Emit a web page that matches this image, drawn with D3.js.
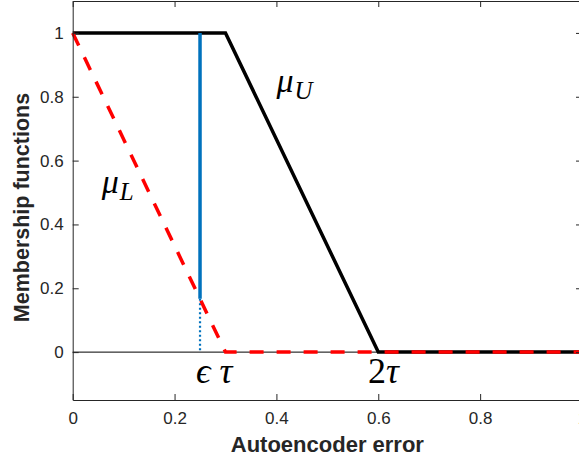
<!DOCTYPE html>
<html>
<head>
<meta charset="utf-8">
<script src="https://cdn.jsdelivr.net/npm/d3@7"></script>
<style>
  body { margin: 0; background: #fff; }
  svg { display: block; }
</style>
</head>
<body>
<div id="chart"></div>
<script>
// Membership functions mu_U (upper) and mu_L (lower) vs autoencoder error.

const upperX = [0, 0.3, 0.6, 1];
const upperY = [1, 1, 0, 0];
const lowerX = [0, 0.3, 1];
const lowerY = [1, 0, 0];
const cutX = 0.25;          // epsilon*tau
const cutY = 0.167;         // where mu_L meets the cut
const xTicks = [0, 0.2, 0.4, 0.6, 0.8, 1];
const yTicks = [0, 0.2, 0.4, 0.6, 0.8, 1];
const xTickLabels = ['0', '0.2', '0.4', '0.6', '0.8', '1'];
const yTickLabels = ['0', '0.2', '0.4', '0.6', '0.8', '1'];

const W = 579, H = 461;
const margin = { top: 1, right: -3, bottom: 61, left: 72.7 };
const axisColor = '#262626';

const svg = d3.select('#chart').append('svg')
  .attr('width', W).attr('height', H)
  .attr('viewBox', `0 0 ${W} ${H}`);

const x = d3.scaleLinear().domain([0, 1]).range([margin.left, W - margin.right]);
const y = d3.scaleLinear().domain([-0.15, 1.1]).range([H - margin.bottom, margin.top]);

const line = d3.line().x(d => x(d[0])).y(d => y(d[1]));

// thin zero line
svg.append('line')
  .attr('x1', x(0)).attr('x2', x(1))
  .attr('y1', y(0)).attr('y2', y(0))
  .attr('stroke', '#000').attr('stroke-width', 1);

// mu_U
svg.append('path')
  .datum(upperX.map((v, i) => [v, upperY[i]]))
  .attr('fill', 'none').attr('stroke', '#000').attr('stroke-width', 3.5)
  .attr('d', line);

// blue cut at epsilon*tau
svg.append('line')
  .attr('x1', x(cutX)).attr('x2', x(cutX))
  .attr('y1', y(1)).attr('y2', y(cutY))
  .attr('stroke', '#0072BD').attr('stroke-width', 3.5);
svg.append('line')
  .attr('x1', x(cutX)).attr('x2', x(cutX))
  .attr('y1', y(cutY)).attr('y2', y(0))
  .attr('stroke', '#0072BD').attr('stroke-width', 2.2)
  .attr('stroke-dasharray', '2,2.5');

// mu_L
svg.append('path')
  .datum(lowerX.map((v, i) => [v, lowerY[i]]))
  .attr('fill', 'none').attr('stroke', '#ff0000').attr('stroke-width', 3.5)
  .attr('stroke-dasharray', '14,13')
  .attr('d', line);

// axes (ticks point inward, box on)
function styleAxis(g) {
  g.selectAll('path, line').attr('stroke', axisColor).attr('stroke-width', 1);
  g.selectAll('text').attr('fill', axisColor)
    .attr('font-family', 'Liberation Sans, Arial, sans-serif').attr('font-size', 17);
}

svg.append('g').attr('transform', `translate(0,${y(-0.15)})`)
  .call(d3.axisBottom(x).tickValues(xTicks).tickFormat((d, i) => xTickLabels[i])
    .tickSize(-6).tickSizeOuter(0).tickPadding(12))
  .call(styleAxis);
svg.append('g').attr('transform', `translate(0,${y(1.1)})`)
  .call(d3.axisTop(x).tickValues(xTicks).tickFormat('').tickSize(-6).tickSizeOuter(0))
  .call(styleAxis);
svg.append('g').attr('transform', `translate(${x(0)},0)`)
  .call(d3.axisLeft(y).tickValues(yTicks).tickFormat((d, i) => yTickLabels[i])
    .tickSize(-6).tickSizeOuter(0).tickPadding(9))
  .call(styleAxis);
svg.append('g').attr('transform', `translate(${x(1)},0)`)
  .call(d3.axisRight(y).tickValues(yTicks).tickFormat('').tickSize(-6).tickSizeOuter(0))
  .call(styleAxis);

// axis titles
svg.append('text')
  .attr('x', (x(0) + x(1)) / 2).attr('y', 452)
  .attr('text-anchor', 'middle')
  .attr('font-family', 'Liberation Sans, Arial, sans-serif')
  .attr('font-size', 22).attr('font-weight', 'bold').attr('fill', axisColor)
  .text('Autoencoder error');
svg.append('text')
  .attr('transform', `translate(29,${(y(-0.15) + y(1.1)) / 2 + 7}) rotate(-90)`)
  .attr('text-anchor', 'middle')
  .attr('font-family', 'Liberation Sans, Arial, sans-serif')
  .attr('font-size', 21.5).attr('font-weight', 'bold').attr('fill', axisColor)
  .text('Membership functions');

// math annotations
const mathFont = 'Liberation Serif, DejaVu Serif, serif';
const annotations = [
  { x: 0.40, y: 0.815, main: 'μ', sub: 'U' },
  { x: 0.057, y: 0.498, main: 'μ', sub: 'L' },
];
annotations.forEach(a => {
  const t = svg.append('text')
    .attr('x', x(a.x)).attr('y', y(a.y))
    .attr('font-family', mathFont).attr('font-style', 'italic')
    .attr('font-size', 34).attr('fill', '#000');
  t.append('tspan').text(a.main);
  t.append('tspan').attr('dx', 1).attr('dy', 7).attr('font-size', 25).text(a.sub);
});

svg.append('text')
  .attr('x', x(0.242)).attr('y', y(-0.097))
  .attr('font-family', mathFont).attr('font-style', 'italic')
  .attr('font-size', 36).attr('fill', '#000')
  .text('ϵ τ');

const twoTau = svg.append('text')
  .attr('x', x(0.58)).attr('y', y(-0.097))
  .attr('font-family', mathFont)
  .attr('font-size', 36).attr('fill', '#000');
twoTau.append('tspan').text('2');
twoTau.append('tspan').attr('font-style', 'italic').text('τ');
</script>
</body>
</html>
